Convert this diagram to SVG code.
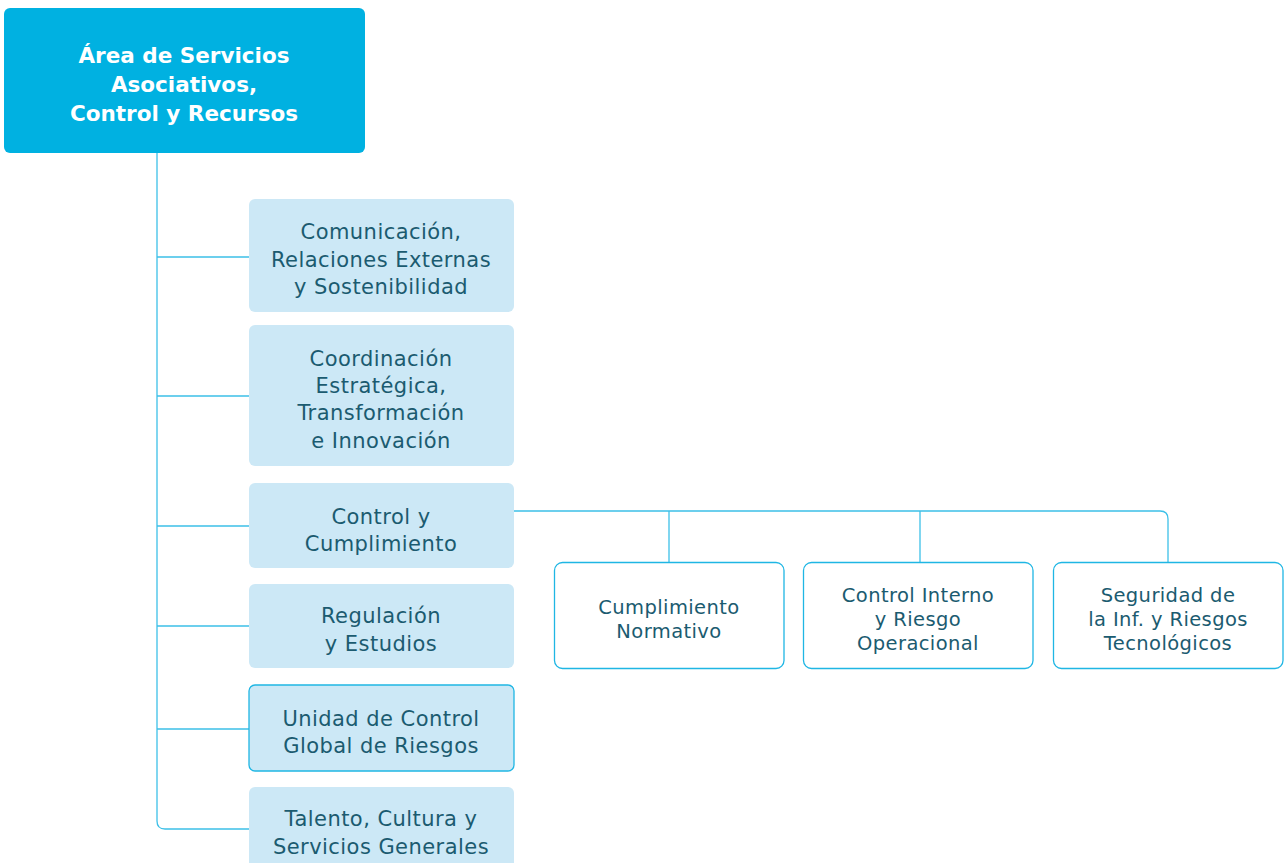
<svg xmlns="http://www.w3.org/2000/svg" width="1284" height="863" viewBox="0 0 1284 863">
<style>
.top{fill:#00b1e1}
.tt{font-family:"DejaVu Sans","Liberation Sans",sans-serif;font-weight:700;font-size:21.5px;fill:#fff;text-anchor:middle}
.c{fill:#cce8f6}
.cb{fill:#cce8f6;stroke:#1fb6e4;stroke-width:1.3}
.s{fill:#fff;stroke:#1fb6e4;stroke-width:1.3}
.t{font-family:"DejaVu Sans","Liberation Sans",sans-serif;font-size:21px;letter-spacing:0.45px;fill:#1b5b70;text-anchor:middle}
.ts{font-family:"DejaVu Sans","Liberation Sans",sans-serif;font-size:19.5px;letter-spacing:0.4px;fill:#1b5b70;text-anchor:middle}
.ln{fill:none;stroke:#3dc0e8;stroke-width:1.3}
</style>
<rect width="1284" height="863" fill="#fff"/>
<g id="connectors">
<path class="ln" d="M157,153 V821 Q157,829 165,829 H249"/>
<path class="ln" d="M157,257 H249 M157,396 H249 M157,526 H249 M157,626 H249 M157,729 H249"/>
<path class="ln" d="M514,511 H1160 Q1168,511 1168,519 V562 M669,511 V562 M920,511 V562"/>
</g>
<g id="root">
<rect class="top" x="4" y="8" width="361" height="145" rx="6"/>
<text class="tt" x="184" y="63">Área de Servicios</text>
<text class="tt" x="184" y="92">Asociativos,</text>
<text class="tt" x="184" y="121">Control y Recursos</text>
</g>
<g id="n1">
<rect class="c" x="249" y="199" width="265" height="113" rx="6"/>
<text class="t" x="381" y="239">Comunicación,</text>
<text class="t" x="381" y="267">Relaciones Externas</text>
<text class="t" x="381" y="294">y Sostenibilidad</text>
</g>
<g id="n2">
<rect class="c" x="249" y="325" width="265" height="141" rx="6"/>
<text class="t" x="381" y="366">Coordinación</text>
<text class="t" x="381" y="393">Estratégica,</text>
<text class="t" x="381" y="420">Transformación</text>
<text class="t" x="381" y="448">e Innovación</text>
</g>
<g id="n3">
<rect class="c" x="249" y="483" width="265" height="85" rx="6"/>
<text class="t" x="381" y="524">Control y</text>
<text class="t" x="381" y="551">Cumplimiento</text>
</g>
<g id="n4">
<rect class="c" x="249" y="584" width="265" height="84" rx="6"/>
<text class="t" x="381" y="623">Regulación</text>
<text class="t" x="381" y="651">y Estudios</text>
</g>
<g id="n5">
<rect class="cb" x="249" y="685" width="265" height="86" rx="6"/>
<text class="t" x="381" y="726">Unidad de Control</text>
<text class="t" x="381" y="753">Global de Riesgos</text>
</g>
<g id="n6">
<rect class="c" x="249" y="787" width="265" height="90" rx="6"/>
<text class="t" x="381" y="826">Talento, Cultura y</text>
<text class="t" x="381" y="854">Servicios Generales</text>
</g>
<g id="s1">
<rect class="s" x="554.5" y="562.5" width="229.5" height="106" rx="8"/>
<text class="ts" x="669" y="614">Cumplimiento</text>
<text class="ts" x="669" y="638">Normativo</text>
</g>
<g id="s2">
<rect class="s" x="803.5" y="562.5" width="229.5" height="106" rx="8"/>
<text class="ts" x="918" y="602">Control Interno</text>
<text class="ts" x="918" y="626">y Riesgo</text>
<text class="ts" x="918" y="650">Operacional</text>
</g>
<g id="s3">
<rect class="s" x="1053.5" y="562.5" width="229.5" height="106" rx="8"/>
<text class="ts" x="1168" y="602">Seguridad de</text>
<text class="ts" x="1168" y="626">la Inf. y Riesgos</text>
<text class="ts" x="1168" y="650">Tecnológicos</text>
</g>
</svg>
